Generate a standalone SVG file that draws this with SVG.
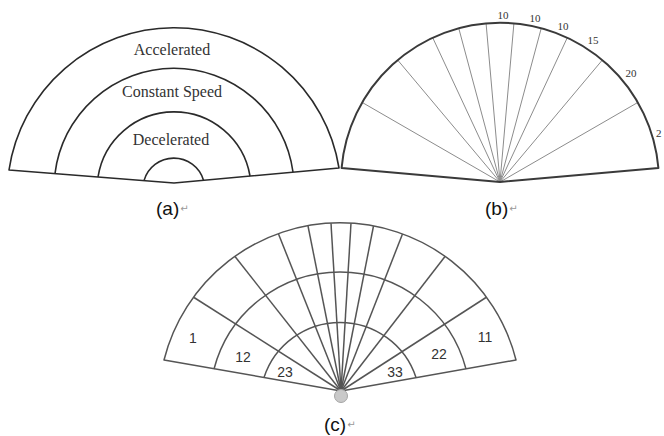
<svg xmlns="http://www.w3.org/2000/svg" width="664" height="436" viewBox="0 0 664 436">
<style>
.bg{fill:#ffffff}
.a-line{fill:none;stroke:#2a2a2a;stroke-width:1.6;stroke-linejoin:round}
.b-edge{fill:none;stroke:#3a3a3a;stroke-width:2;stroke-linejoin:round}
.b-ray{stroke:#8c8c8c;stroke-width:1}
.c-line{fill:none;stroke:#555555;stroke-width:1.5;stroke-linejoin:round}
.serif{font-family:"Liberation Serif","Times New Roman",serif;fill:#333333}
.a-text{font-size:16px;text-anchor:middle}
.b-num{font-size:11px;text-anchor:middle}
.c-num{font-family:"Liberation Sans",Arial,sans-serif;font-size:14px;fill:#333333;text-anchor:middle}
.cap{font-family:"Liberation Sans",Arial,sans-serif;font-size:19px;fill:#111111}
.ret{font-family:"DejaVu Sans",sans-serif;font-size:10px;fill:#999999}
</style>
<rect class="bg" x="0" y="0" width="664" height="436"/>

<g id="panel-a">
  <path class="a-line" d="M 9,170 A 167 167 0 0 1 339,168 L 174,183 Z"/>
  <path class="a-line" d="M 55,173.5 A 120 120 0 0 1 293,172"/>
  <path class="a-line" d="M 98,177 A 77 77 0 0 1 250,176"/>
  <path class="a-line" d="M 144,180.6 A 31 31 0 0 1 203.5,180.2"/>
  <text class="serif a-text" x="172" y="55">Accelerated</text>
  <text class="serif a-text" x="172" y="97">Constant Speed</text>
  <text class="serif a-text" x="171" y="145">Decelerated</text>
</g>
<g id="label-a">
  <text class="cap" x="156" y="215">(a)<tspan class="ret" dx="1" dy="-3">↵</tspan></text>
</g>

<g id="panel-b">
  <g id="b-rays">
    <line class="b-ray" x1="500" y1="182" x2="486.1" y2="23.6"/>
    <line class="b-ray" x1="500" y1="182" x2="513.9" y2="23.6"/>
    <line class="b-ray" x1="500" y1="182" x2="458.8" y2="28.4"/>
    <line class="b-ray" x1="500" y1="182" x2="541.2" y2="28.4"/>
    <line class="b-ray" x1="500" y1="182" x2="432.8" y2="37.9"/>
    <line class="b-ray" x1="500" y1="182" x2="567.2" y2="37.9"/>
    <line class="b-ray" x1="500" y1="182" x2="397.8" y2="60.2"/>
    <line class="b-ray" x1="500" y1="182" x2="602.2" y2="60.2"/>
    <line class="b-ray" x1="500" y1="182" x2="362.3" y2="102.5"/>
    <line class="b-ray" x1="500" y1="182" x2="637.7" y2="102.5"/>
  </g>
  <path class="b-edge" d="M 341.6,168 A 159 159 0 0 1 658.4,168 L 500,182 Z"/>
  <text class="serif b-num" x="503" y="19">10</text>
  <text class="serif b-num" x="535" y="22">10</text>
  <text class="serif b-num" x="563" y="30">10</text>
  <text class="serif b-num" x="593" y="44">15</text>
  <text class="serif b-num" x="631" y="77">20</text>
  <text class="serif" font-size="11" x="656" y="137">2</text>
</g>
<g id="label-b">
  <text class="cap" x="485" y="215">(b)<tspan class="ret" dx="1" dy="-3">↵</tspan></text>
</g>

<g id="panel-c">
  <g id="c-rays">
    <line class="c-line" x1="341" y1="391" x2="194" y2="297.5"/>
    <line class="c-line" x1="341" y1="391" x2="235" y2="256.5"/>
    <line class="c-line" x1="341" y1="391" x2="278.5" y2="234"/>
    <line class="c-line" x1="341" y1="391" x2="308" y2="226"/>
    <line class="c-line" x1="341" y1="391" x2="331" y2="223.3"/>
    <line class="c-line" x1="341" y1="391" x2="351" y2="223.3"/>
    <line class="c-line" x1="341" y1="391" x2="373.5" y2="226"/>
    <line class="c-line" x1="341" y1="391" x2="402.5" y2="234"/>
    <line class="c-line" x1="341" y1="391" x2="445" y2="256.5"/>
    <line class="c-line" x1="341" y1="391" x2="486" y2="297.5"/>
  </g>
  <path class="c-line" d="M 164,360 A 181.5 181.5 0 0 1 516,360 L 341,391 Z"/>
  <path class="c-line" d="M 214,369 A 130.3 130.3 0 0 1 466,369"/>
  <path class="c-line" d="M 264,377.5 A 80 80 0 0 1 416,377.5"/>
  <circle cx="341" cy="396" r="6.5" fill="#c9c9c9" stroke="#a5a5a5" stroke-width="1"/>
  <text class="c-num" x="193" y="343">1</text>
  <text class="c-num" x="243" y="362">12</text>
  <text class="c-num" x="285" y="377">23</text>
  <text class="c-num" x="395" y="377">33</text>
  <text class="c-num" x="439" y="359">22</text>
  <text class="c-num" x="485" y="342">11</text>
</g>
<g id="label-c">
  <text class="cap" x="324" y="431">(c)<tspan class="ret" dx="1" dy="-3">↵</tspan></text>
</g>
</svg>
